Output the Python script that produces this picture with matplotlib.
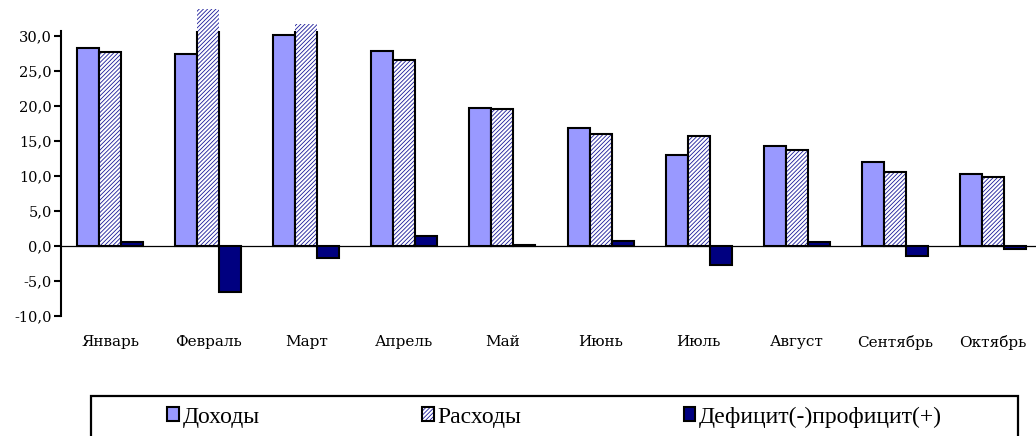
import matplotlib
matplotlib.use('Agg')
import matplotlib.pyplot as plt
from matplotlib.patches import Patch, Rectangle
from matplotlib.ticker import FuncFormatter, FixedLocator
import numpy as np

months = ['Январь', 'Февраль', 'Март', 'Апрель', 'Май', 'Июнь', 'Июль',
          'Август', 'Сентябрь', 'Октябрь']
income = [28.3, 27.4, 30.1, 27.9, 19.7, 16.8, 13.0, 14.3, 12.0, 10.3]
expenses = [27.7, 33.9, 31.7, 26.5, 19.5, 16.0, 15.7, 13.7, 10.6, 9.9]
balance = [0.5, -6.6, -1.7, 1.4, 0.2, 0.75, -2.7, 0.5, -1.5, -0.4]
series_labels = ['Доходы', 'Расходы', 'Дефицит(-)профицит(+)']
yticks = [-10, -5, 0, 5, 10, 15, 20, 25, 30]

C_INC = '#9999FF'
C_DEF = '#000080'
HATCH = '////////'

plt.rcParams['hatch.color'] = '#1a1a99'
plt.rcParams['hatch.linewidth'] = 0.6

W, H = 1036, 436
fig = plt.figure(figsize=(W / 100, H / 100), dpi=100)
ax = fig.add_axes([61 / W, (H - 316) / H, 981 / W, 285 / H])

x = np.arange(len(months))
w = 0.224

ax.axhline(0, color='black', lw=0.9, zorder=1)
ax.bar(x - w, income, w, color=C_INC, edgecolor='black', linewidth=1.5, zorder=3)
# hatched fill (not clipped, as in the reference) + clipped outline
ax.bar(x, expenses, w, color='white', hatch=HATCH, zorder=3, clip_on=False)
ax.bar(x, expenses, w, fill=False, edgecolor='black', linewidth=1.5, zorder=4)
ax.bar(x + w, balance, w, color=C_DEF, edgecolor='black', linewidth=1.5, zorder=3)

ax.set_xlim(-0.5, len(months) - 0.5)
ax.set_ylim(-10, 30.714)

ax.yaxis.set_major_locator(FixedLocator(yticks))
ax.yaxis.set_major_formatter(FuncFormatter(lambda v, p: f"{v:.1f}".replace('.', ',')))
ax.set_xticks(x)
ax.set_xticklabels(months)

for s in ('top', 'right', 'bottom'):
    ax.spines[s].set_visible(False)
ax.spines['left'].set_linewidth(1.5)

ax.tick_params(axis='y', direction='out', length=5, width=1.5, pad=1.5,
               labelsize=10.5)
ax.tick_params(axis='x', length=0, pad=14, labelsize=11)
for lab in ax.get_xticklabels() + ax.get_yticklabels():
    lab.set_fontfamily('DejaVu Serif')

# legend
h_inc = Patch(facecolor=C_INC, edgecolor='black', linewidth=1.5)
h_exp = (Patch(facecolor='white', hatch=HATCH),
         Patch(fill=False, edgecolor='black', linewidth=1.5))
h_def = Patch(facecolor=C_DEF, edgecolor='black', linewidth=1.5)

y_c = (H - 417) / H
leg = fig.legend([h_inc, h_exp, h_def], series_labels, ncol=3, mode='expand',
                 loc='center',
                 bbox_to_anchor=(167 / W, y_c - 10 / H, (942 - 167) / W, 20 / H),
                 borderpad=0, borderaxespad=0, frameon=False,
                 handlelength=0.5, handleheight=0.5, handletextpad=0.15,
                 prop={'family': 'Liberation Serif', 'size': 17})

frame = Rectangle((91 / W, -10 / H), (1018 - 91) / W, (H - 396 + 10) / H,
                  transform=fig.transFigure, fill=False, edgecolor='black',
                  linewidth=1.6, clip_on=False)
fig.add_artist(frame)

fig.savefig('out.png', dpi=100)
